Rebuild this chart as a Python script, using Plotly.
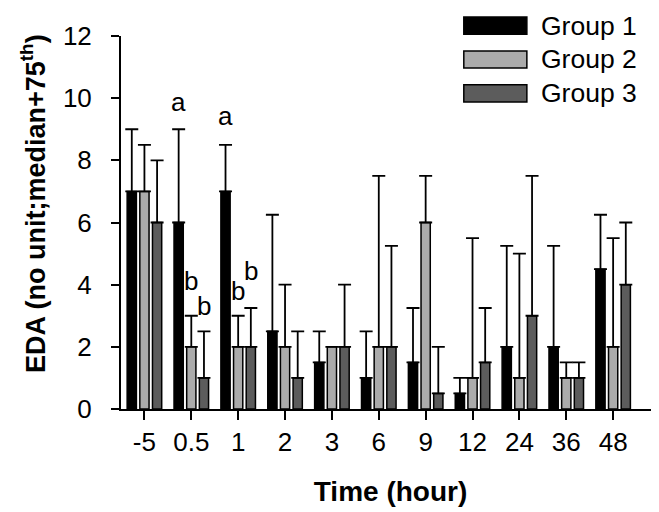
import plotly.graph_objects as go

# data (median and median+75th percentile)
times = ["-5", "0.5", "1", "2", "3", "6", "9", "12", "24", "36", "48"]
groups = ["Group 1", "Group 2", "Group 3"]
colors = ["#000000", "#ababab", "#5c5c5c"]

g1_median = [7, 6, 7, 2.5, 1.5, 1, 1.5, 0.5, 2, 2, 4.5]
g1_upper = [9, 9, 8.5, 6.25, 2.5, 2.5, 3.25, 1, 5.25, 5.25, 6.25]
g2_median = [7, 2, 2, 2, 2, 2, 6, 1, 1, 1, 2]
g2_upper = [8.5, 3, 3, 4, 2, 7.5, 7.5, 5.5, 5, 1.5, 5.5]
g3_median = [6, 1, 2, 1, 2, 2, 0.5, 1.5, 3, 1, 4]
g3_upper = [8, 2.5, 3.25, 2.5, 4, 5.25, 2, 3.25, 7.5, 1.5, 6]

medians = [g1_median, g2_median, g3_median]
uppers = [g1_upper, g2_upper, g3_upper]

# significance letters: (group index, time, letter, shift in px above cap)
letters = [(0, "0.5", "a", 10), (1, "0.5", "b", 18), (2, "0.5", "b", 8),
           (0, "1", "a", 12), (1, "1", "b", 8), (2, "1", "b", 20)]

FONT = "Arial, 'Liberation Sans', sans-serif"

fig = go.Figure()
for name, col, med, up in zip(groups, colors, medians, uppers):
    fig.add_trace(go.Bar(
        x=times, y=med, name=name,
        marker=dict(color=col, line=dict(color="black", width=1.5)),
        error_y=dict(type="data", symmetric=False,
                     array=[u - m for u, m in zip(up, med)],
                     arrayminus=[0] * len(med),
                     color="black", thickness=1.8, width=6.5),
        showlegend=False))

# letters above the caps
slot = 0.27
for gi, t, txt, shift in letters:
    i = times.index(t)
    fig.add_annotation(x=i + (gi - 1) * slot, y=uppers[gi][i], xref="x", yref="y",
                       text=txt, showarrow=False, yanchor="bottom", yshift=shift,
                       font=dict(size=26, color="black", family=FONT))

# hand-made legend with wide swatches
sw_y = [(1.051, 1.005), (0.960, 0.914), (0.869, 0.823)]
for (y0, y1), name, col in zip(sw_y, groups, colors):
    fig.add_shape(type="rect", xref="paper", yref="paper", x0=0.636, x1=0.753,
                  y0=y1, y1=y0, fillcolor=col, line=dict(color="black", width=1.5))
    fig.add_annotation(x=0.776, y=(y0 + y1) / 2, xref="paper", yref="paper",
                       text=name, showarrow=False, xanchor="left", yanchor="middle",
                       font=dict(size=26.5, color="black", family=FONT))

# y title as annotation (sits a bit above center in the original)
fig.add_annotation(x=-0.163, y=0.55, xref="paper", yref="paper",
                   text="<b>EDA (no unit;median+75<sup>th</sup>)</b>", textangle=-90,
                   xanchor="center", yanchor="middle",
                   showarrow=False, font=dict(size=27, color="black", family=FONT))

fig.update_layout(
    width=659, height=512,
    margin=dict(l=113, r=7, t=28, b=111),
    plot_bgcolor="white", paper_bgcolor="white",
    barmode="group", bargap=0.19, bargroupgap=0.27,
    font=dict(family=FONT, size=26, color="black"),
    xaxis=dict(type="category", range=[-0.5, 11], showline=True, linecolor="black",
               linewidth=2, ticks="outside", ticklen=9, tickwidth=2, tickcolor="black",
               ticklabelstandoff=0, showgrid=False, zeroline=False,
               title=dict(text="<b>Time (hour)</b>", font=dict(size=28), standoff=25)),
    yaxis=dict(range=[0, 12], tickvals=[0, 2, 4, 6, 8, 10, 12], showline=True,
               linecolor="black", linewidth=2, ticks="outside", ticklen=8, tickwidth=2,
               tickcolor="black", ticklabelstandoff=14, showgrid=False, zeroline=False),
)

fig.write_html("out.html")
